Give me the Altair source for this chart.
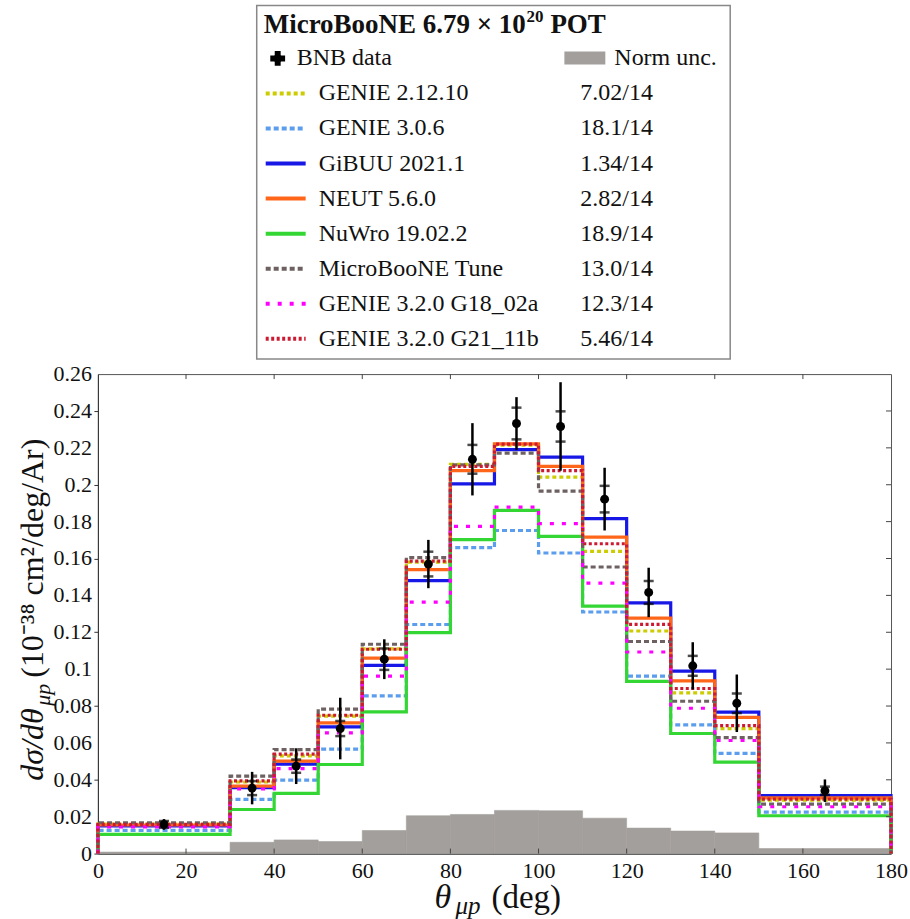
import altair as alt
import pandas as pd

# ---------------- data ----------------
bin_edges = [0, 30, 40, 50, 60, 70, 80, 90, 100, 110, 120, 130, 140, 150, 180]
bin_centers = [15, 35, 45, 55, 65, 75, 85, 95, 105, 115, 125, 135, 145, 165]

model_names = ["GENIE 2.12.10", "GENIE 3.0.6", "GiBUU 2021.1", "NEUT 5.6.0",
               "NuWro 19.02.2", "MicroBooNE Tune", "GENIE 3.2.0 G18_02a",
               "GENIE 3.2.0 G21_11b"]
chi2_labels = ["7.02/14", "18.1/14", "1.34/14", "2.82/14", "18.9/14",
               "13.0/14", "12.3/14", "5.46/14"]

genie_2_12_10 = [0.0160, 0.0388, 0.0530, 0.0745, 0.1110, 0.1580, 0.2110,
                 0.2215, 0.2041, 0.1639, 0.1207, 0.0871, 0.0678, 0.0290]
genie_3_0_6 = [0.0126, 0.0294, 0.0398, 0.0566, 0.0855, 0.1242, 0.1659,
               0.1752, 0.1630, 0.1310, 0.0962, 0.0698, 0.0543, 0.0225]
gibuu = [0.0150, 0.0357, 0.0485, 0.0687, 0.1020, 0.1480, 0.2005,
         0.2190, 0.2150, 0.1816, 0.1359, 0.0989, 0.0767, 0.0315]
neut = [0.0155, 0.0366, 0.0501, 0.0709, 0.1060, 0.1540, 0.2077,
        0.2222, 0.2100, 0.1716, 0.1277, 0.0936, 0.0738, 0.0302]
nuwro = [0.0104, 0.0239, 0.0326, 0.0483, 0.0768, 0.1198, 0.1702,
         0.1861, 0.1720, 0.1342, 0.0934, 0.0651, 0.0496, 0.0205]
uboone_tune = [0.0167, 0.0420, 0.0564, 0.0783, 0.1135, 0.1605, 0.2108,
               0.2171, 0.1965, 0.1554, 0.1150, 0.0826, 0.0629, 0.0268]
genie_g18 = [0.0145, 0.0350, 0.0461, 0.0654, 0.0962, 0.1364, 0.1774,
             0.1879, 0.1789, 0.1467, 0.1093, 0.0788, 0.0613, 0.0254]
genie_g21 = [0.0158, 0.0394, 0.0539, 0.0750, 0.1108, 0.1586, 0.2100,
             0.2220, 0.2077, 0.1680, 0.1243, 0.0895, 0.0694, 0.0295]
model_values = [genie_2_12_10, genie_3_0_6, gibuu, neut, nuwro,
                uboone_tune, genie_g18, genie_g21]

data_values = [0.0158, 0.0355, 0.0474, 0.0678, 0.1054, 0.1570, 0.2138,
               0.2332, 0.2316, 0.1922, 0.1416, 0.1018, 0.0815, 0.0341]
data_total_err = [0.0029, 0.0088, 0.0097, 0.0167, 0.0108, 0.0131, 0.0196,
                  0.0143, 0.0240, 0.0170, 0.0134, 0.0128, 0.0156, 0.0061]
data_stat_err = [0.0018, 0.0038, 0.0036, 0.0041, 0.0058, 0.0067, 0.0078,
                 0.0086, 0.0082, 0.0072, 0.0062, 0.0054, 0.0053, 0.0022]
norm_unc = [0.0008, 0.0061, 0.0074, 0.0065, 0.0125, 0.0205, 0.0212,
            0.0234, 0.0232, 0.0192, 0.0138, 0.0122, 0.0112, 0.0027]

x_ticks = [0, 20, 40, 60, 80, 100, 120, 140, 160, 180]
y_ticks = [0, 0.02, 0.04, 0.06, 0.08, 0.1, 0.12, 0.14, 0.16, 0.18, 0.2,
           0.22, 0.24, 0.26]
y_tick_labels = ["0", "0.02", "0.04", "0.06", "0.08", "0.1", "0.12", "0.14",
                 "0.16", "0.18", "0.2", "0.22", "0.24", "0.26"]

legend_title_main = "MicroBooNE 6.79 × 10"
legend_title_exp = "20"
legend_title_end = "POT"
data_label = "BNB data"
norm_label = "Norm unc."

# ---------------- styles ----------------
FONT = "Liberation Serif"
colors = ["#cccc00", "#5c9ded", "#1717e6", "#ff6619", "#33d633",
          "#6e6161", "#ff00ff", "#cc1a33"]
dashes = [[4, 3], [5, 3], None, None, None, [5, 3], [4, 8], [3, 2.5]]
GRAY = "#a39f9c"
INK = "#111111"
W, H = 794, 480

xs = alt.Scale(domain=[0, 180], nice=False, zero=False)
ys = alt.Scale(domain=[0, 0.26], nice=False, zero=False)

layers = []

# normalisation uncertainty band
norm_df = pd.DataFrame({"lo": bin_edges[:-1], "hi": bin_edges[1:], "v": norm_unc})
layers.append(
    alt.Chart(norm_df).mark_rect(color=GRAY, stroke=GRAY, strokeWidth=0.6).encode(
        x=alt.X("lo:Q", scale=xs, title=None,
                axis=alt.Axis(values=x_ticks, ticks=False, grid=False,
                              labelFontSize=22, labelPadding=7, labelFlush=False,
                              labelOverlap=False,
                              labelFont=FONT, labelColor=INK, domainColor="#333")),
        x2="hi:Q",
        y=alt.Y("v:Q", scale=ys, title=None,
                axis=alt.Axis(values=y_ticks, tickSize=4, tickColor="#333", grid=False,
                              labels=False, domainColor="#333")),
        y2=alt.datum(0),
    )
)

# model histograms as step lines
for name, vals, color, dash in zip(model_names, model_values, colors, dashes):
    pts_x = [bin_edges[0]] + bin_edges[:-1] + [bin_edges[-1]]
    pts_y = [0.0] + list(vals) + [0.0]
    df = pd.DataFrame({"x": pts_x, "y": pts_y, "i": list(range(len(pts_x)))})
    kw = dict(interpolate="step-after", color=color, strokeWidth=3.2)
    if dash:
        kw["strokeDash"] = dash
    layers.append(
        alt.Chart(df).mark_line(**kw).encode(
            x=alt.X("x:Q", scale=xs, title=None),
            y=alt.Y("y:Q", scale=ys, title=None),
            order="i:Q",
        )
    )

# data points with total and stat errors
data_df = pd.DataFrame({"x": bin_centers, "y": data_values,
                        "tot": data_total_err, "stat": data_stat_err})
base = alt.Chart(data_df).transform_calculate(
    tlo="datum.y - datum.tot", thi="datum.y + datum.tot",
    slo="datum.y - datum.stat", shi="datum.y + datum.stat")
layers.append(base.mark_rule(color="black", strokeWidth=2.5).encode(
    x=alt.X("x:Q", scale=xs, title=None),
    y=alt.Y("tlo:Q", scale=ys, title=None), y2="thi:Q"))
for f in ["slo", "shi"]:
    layers.append(base.mark_tick(color="black", orient="horizontal", size=10,
                                 thickness=2.5).encode(
        x=alt.X("x:Q", scale=xs, title=None),
        y=alt.Y(f + ":Q", scale=ys, title=None)))
layers.append(base.mark_circle(color="black", size=80, opacity=1).encode(
    x=alt.X("x:Q", scale=xs, title=None),
    y=alt.Y("y:Q", scale=ys, title=None)))

# inward ticks on bottom, top and right; y tick labels
xt = pd.DataFrame({"t": x_ticks[1:-1]})
yt = pd.DataFrame({"t": y_ticks[1:-1]})
layers.append(alt.Chart(xt).mark_rule(color="#444").encode(
    x=alt.X("t:Q", scale=xs, title=None), y=alt.value(H), y2=alt.value(H - 5)))
layers.append(alt.Chart(xt).mark_rule(color="#444").encode(
    x=alt.X("t:Q", scale=xs, title=None), y=alt.value(0), y2=alt.value(5)))
layers.append(alt.Chart(yt).mark_rule(color="#444").encode(
    y=alt.Y("t:Q", scale=ys, title=None), x=alt.value(W), x2=alt.value(W - 5)))
ylab = pd.DataFrame({"t": y_ticks, "lab": y_tick_labels})
layers.append(alt.Chart(ylab).mark_text(align="right", baseline="middle", fontSize=22,
                                        font=FONT, color=INK).encode(
    y=alt.Y("t:Q", scale=ys, title=None), x=alt.value(-6), text="lab:N"))


def text_layer(text, x, y, size, angle=0, italic=False, bold=False,
               align="left", baseline="alphabetic"):
    kw = dict(align=align, baseline=baseline, fontSize=size, font=FONT,
              color=INK, fontStyle="italic" if italic else "normal",
              fontWeight="bold" if bold else "normal")
    if angle:
        kw["angle"] = angle
    return alt.Chart(pd.DataFrame({"t": [text]})).mark_text(**kw).encode(
        x=alt.value(x), y=alt.value(y), text="t:N")


# axis titles (with sub/superscripts)
layers.append(text_layer("dσ/dθ", -55, 407, 32, angle=270, italic=True))
layers.append(text_layer("μp", -48, 332, 22, angle=270, italic=True))
layers.append(text_layer("(10⁻³⁸ cm²/deg/Ar)", -55, 304, 32, angle=270))
layers.append(text_layer("θ", 337, 534, 34, italic=True))
layers.append(text_layer("μp", 358, 540, 25, italic=True))
layers.append(text_layer("(deg)", 394, 534, 33))

# legend box above the plot
one = pd.DataFrame({"k": [0]})
layers.append(alt.Chart(one).mark_rect(fill="white", stroke="#888",
                                       strokeWidth=1.5).encode(
    x=alt.value(159), x2=alt.value(633), y=alt.value(-369), y2=alt.value(-15)))
layers.append(text_layer(legend_title_main, 166, -341, 27, bold=True))
layers.append(text_layer(legend_title_exp, 429, -352, 17, bold=True))
layers.append(text_layer(legend_title_end, 453, -341, 27, bold=True))
layers.append(alt.Chart(one).mark_point(shape="cross", filled=True, color="black",
                                        size=220, opacity=1).encode(
    x=alt.value(180), y=alt.value(-316)))
layers.append(alt.Chart(one).mark_circle(color="black", size=70, opacity=1).encode(
    x=alt.value(180), y=alt.value(-316)))
layers.append(text_layer(data_label, 199, -316, 24, baseline="middle"))
layers.append(alt.Chart(one).mark_rect(color=GRAY).encode(
    x=alt.value(467), x2=alt.value(508), y=alt.value(-323), y2=alt.value(-310)))
layers.append(text_layer(norm_label, 517, -316, 24, baseline="middle"))

for k, (name, chi, color, dash) in enumerate(zip(model_names, chi2_labels, colors, dashes)):
    ypix = -281 + 35.1 * k
    kw = dict(color=color, strokeWidth=4)
    if dash:
        kw["strokeDash"] = dash
    layers.append(alt.Chart(one).mark_rule(**kw).encode(
        x=alt.value(168), x2=alt.value(208), y=alt.value(ypix)))
    layers.append(text_layer(name, 221, ypix, 24, baseline="middle"))
    layers.append(text_layer(chi, 483, ypix, 24, baseline="middle"))

chart = alt.layer(*layers).properties(
    width=W, height=H,
    padding={"left": 16, "top": 4, "right": 2, "bottom": 0},
).configure_view(stroke="#555", strokeWidth=1)

chart.save("out.html", embed_options={"renderer": "svg", "actions": False})
